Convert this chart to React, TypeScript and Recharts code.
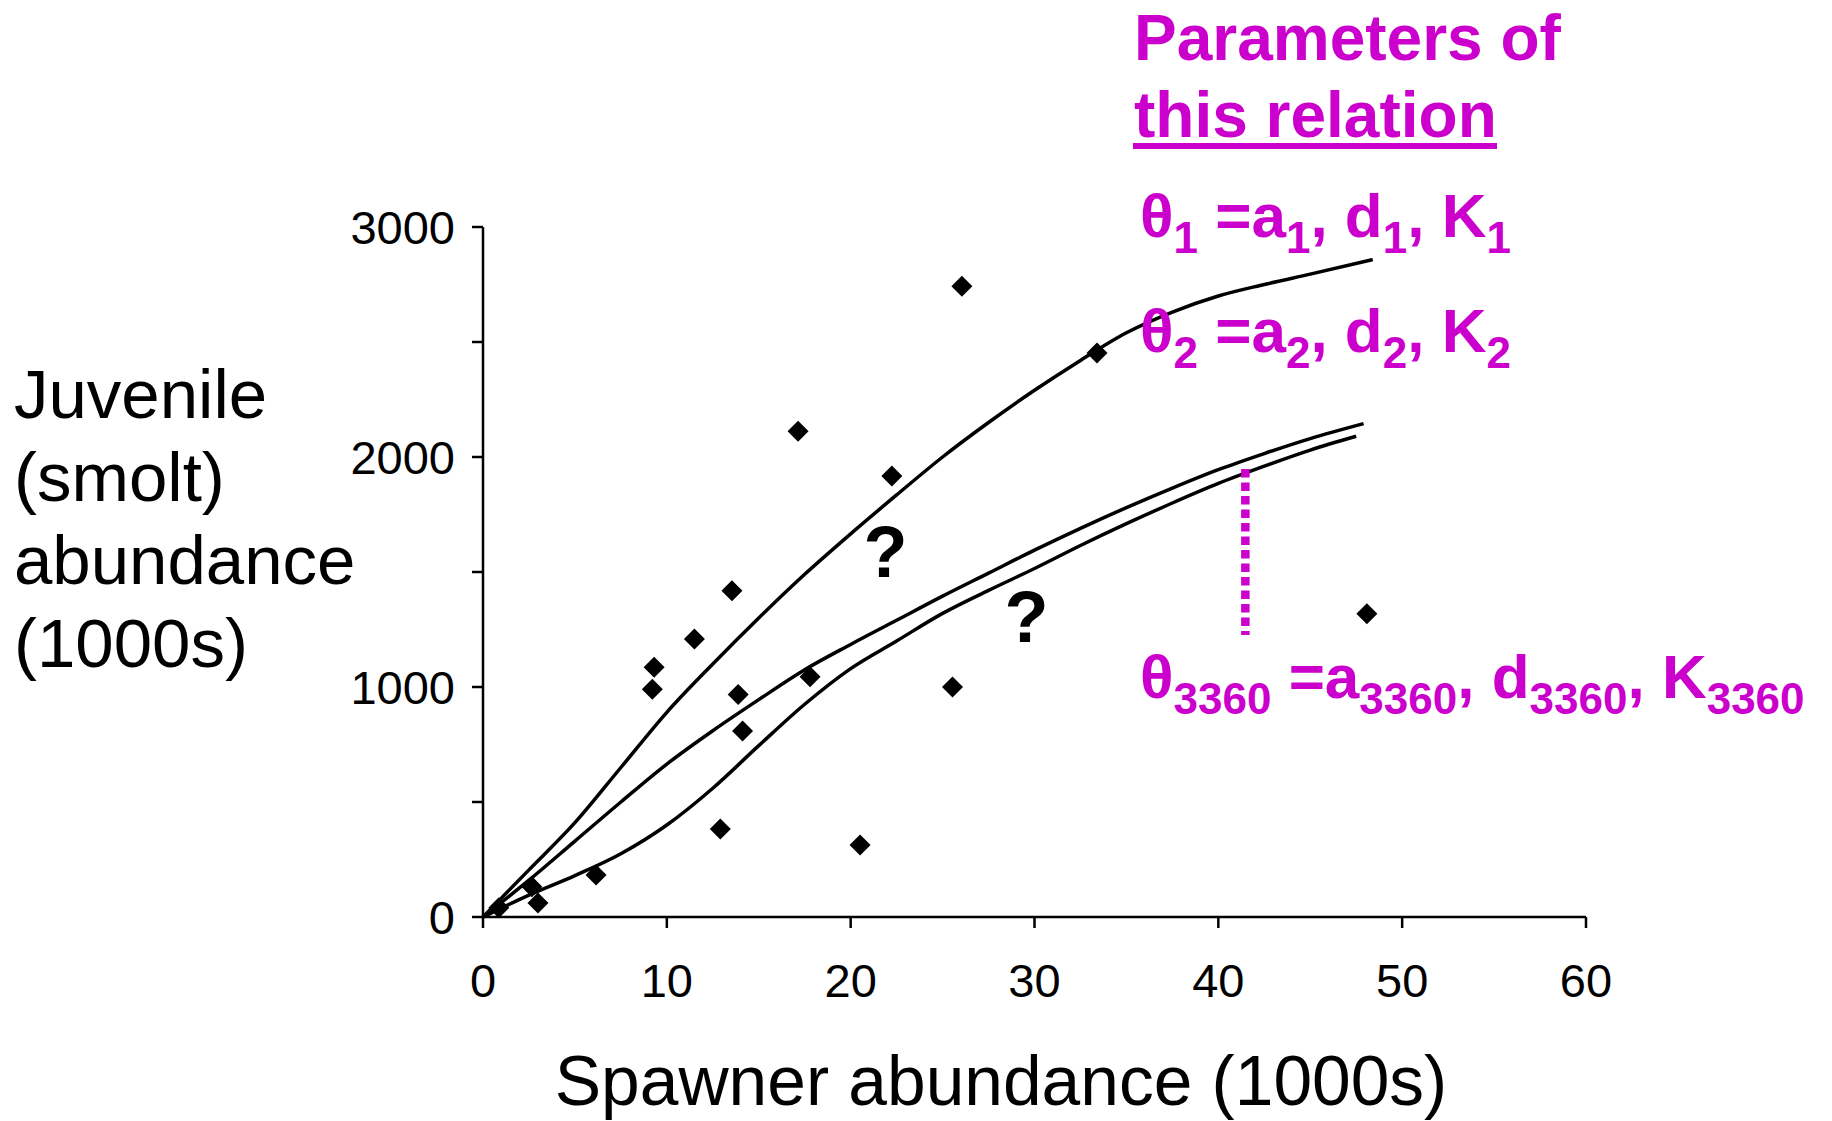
import { ComposedChart, Line, Scatter, XAxis, YAxis, ReferenceLine } from "recharts";

// observed spawner / smolt pairs (1000s)
const spawners = [0.86, 2.66, 2.99, 6.15, 9.21, 9.31, 11.5, 13.54, 12.91, 13.88, 14.12, 17.14, 17.79, 20.51, 22.24, 26.05, 25.54, 33.4, 48.08];
const smolts = [40, 132, 61, 183, 990, 1086, 1209, 1419, 383, 967, 809, 2112, 1045, 313, 1917, 2742, 1000, 2452, 1318];

// fitted curves, one per parameter set
const theta1X = [0, 2.5, 5, 7.5, 10, 12.5, 15, 17.5, 20, 22.5, 25, 27.5, 30, 32.5, 35, 37.5, 40, 42.5, 45, 48.4];
const theta1Y = [0, 205, 410, 650, 890, 1100, 1300, 1490, 1666, 1835, 2000, 2150, 2290, 2420, 2540, 2630, 2700, 2750, 2795, 2858];

const theta2X = [0, 2.5, 5, 7.5, 10, 12.5, 15, 17.5, 20, 22.5, 25, 27.5, 30, 32.5, 35, 37.5, 40, 42.5, 45, 47.9];
const theta2Y = [0, 160, 330, 500, 665, 810, 945, 1075, 1185, 1290, 1395, 1495, 1595, 1690, 1780, 1865, 1945, 2015, 2080, 2145];

const theta3X = [0, 2.5, 5, 7.5, 10, 12.5, 15, 17.5, 20, 22.5, 25, 27.5, 30, 32.5, 35, 37.5, 40, 42.5, 45, 47.5];
const theta3Y = [0, 95, 180, 275, 400, 560, 745, 925, 1080, 1200, 1320, 1420, 1515, 1615, 1710, 1800, 1885, 1960, 2030, 2090];

const xTicks = [0, 10, 20, 30, 40, 50, 60];
const yTicks = [0, 500, 1000, 1500, 2000, 2500, 3000];
const yTitle = ["Juvenile", "(smolt)", "abundance", "(1000s)"];

const MAGENTA = "#cc00cc";
const FONT = "'Liberation Sans', Arial, Helvetica, sans-serif";

const points = spawners.map((x, i) => ({ x, y: smolts[i] }));
const toCurve = (xs: number[], ys: number[]) => xs.map((x, i) => ({ x, y: ys[i] }));

const Diamond = (props: any) => {
  const { cx, cy } = props;
  const r = 10.5;
  return <polygon points={`${cx},${cy - r} ${cx + r},${cy} ${cx},${cy + r} ${cx - r},${cy}`} fill="#000" />;
};

const Theta = ({ x, y, sub }: { x: number; y: number; sub: string }) => (
  <text x={x} y={y} fill={MAGENTA} fontFamily={FONT} fontWeight="bold" fontSize={62}>
    θ
    <tspan fontSize={44} dy={16}>{sub}</tspan>
    <tspan dy={-16}> =a</tspan>
    <tspan fontSize={44} dy={16}>{sub}</tspan>
    <tspan dy={-16}>, d</tspan>
    <tspan fontSize={44} dy={16}>{sub}</tspan>
    <tspan dy={-16}>, K</tspan>
    <tspan fontSize={44} dy={16}>{sub}</tspan>
  </text>
);

export default function App() {
  return (
    <div style={{ position: "absolute", left: 0, top: 0, width: 1832, height: 1121, background: "#fff" }}>
      <ComposedChart width={1832} height={1121} margin={{ top: 227, right: 246, bottom: 174, left: 423 }}>
        <XAxis
          dataKey="x"
          type="number"
          domain={[0, 60]}
          ticks={xTicks}
          axisLine={{ stroke: "#000", strokeWidth: 2.5 }}
          tickLine={{ stroke: "#000", strokeWidth: 2.5 }}
          tickSize={11}
          tickMargin={36}
          tick={{ fill: "#000", fontSize: 47, fontFamily: FONT }}
          height={30}
        />
        <YAxis
          type="number"
          domain={[0, 3000]}
          ticks={yTicks}
          tickFormatter={(v) => (v % 1000 === 0 ? String(v) : "")}
          axisLine={{ stroke: "#000", strokeWidth: 2.5 }}
          tickLine={{ stroke: "#000", strokeWidth: 2.5 }}
          tickSize={11}
          tickMargin={17}
          tick={{ fill: "#000", fontSize: 47, fontFamily: FONT }}
          width={60}
        />
        <Line data={toCurve(theta1X, theta1Y)} dataKey="y" type="monotone" stroke="#000" strokeWidth={3.5} dot={false} activeDot={false} isAnimationActive={false} />
        <Line data={toCurve(theta2X, theta2Y)} dataKey="y" type="monotone" stroke="#000" strokeWidth={3.5} dot={false} activeDot={false} isAnimationActive={false} />
        <Line data={toCurve(theta3X, theta3Y)} dataKey="y" type="monotone" stroke="#000" strokeWidth={3.5} dot={false} activeDot={false} isAnimationActive={false} />
        <Scatter data={points} dataKey="y" shape={<Diamond />} isAnimationActive={false} />
        <ReferenceLine
          segment={[{ x: 41.47, y: 1948 }, { x: 41.47, y: 1226 }]}
          stroke={MAGENTA}
          strokeWidth={8.5}
          strokeDasharray="8.5 5"
        />
      </ComposedChart>
      <svg width={1832} height={1121} style={{ position: "absolute", left: 0, top: 0, pointerEvents: "none" }}>
        <text fontFamily={FONT} fontSize={69} fill="#000">
          {yTitle.map((t, i) => (
            <tspan key={t} x={14} y={418 + i * 83}>{t}</tspan>
          ))}
        </text>
        <text x={1001} y={1105} textAnchor="middle" fontFamily={FONT} fontSize={69.5} fill="#000">
          Spawner abundance (1000s)
        </text>
        <text x={1134} y={60} fontFamily={FONT} fontWeight="bold" fontSize={64} fill={MAGENTA}>Parameters of</text>
        <text x={1134} y={137} fontFamily={FONT} fontWeight="bold" fontSize={64} fill={MAGENTA}>this relation</text>
        <rect x={1133} y={143} width={364} height={6} fill={MAGENTA} />
        <Theta x={1140} y={237} sub="1" />
        <Theta x={1140} y={352} sub="2" />
        <Theta x={1140} y={698} sub="3360" />
        <text x={885.5} y={577} textAnchor="middle" fontFamily={FONT} fontWeight="bold" fontSize={72} fill="#000">?</text>
        <text x={1026.5} y={642} textAnchor="middle" fontFamily={FONT} fontWeight="bold" fontSize={72} fill="#000">?</text>
      </svg>
    </div>
  );
}
